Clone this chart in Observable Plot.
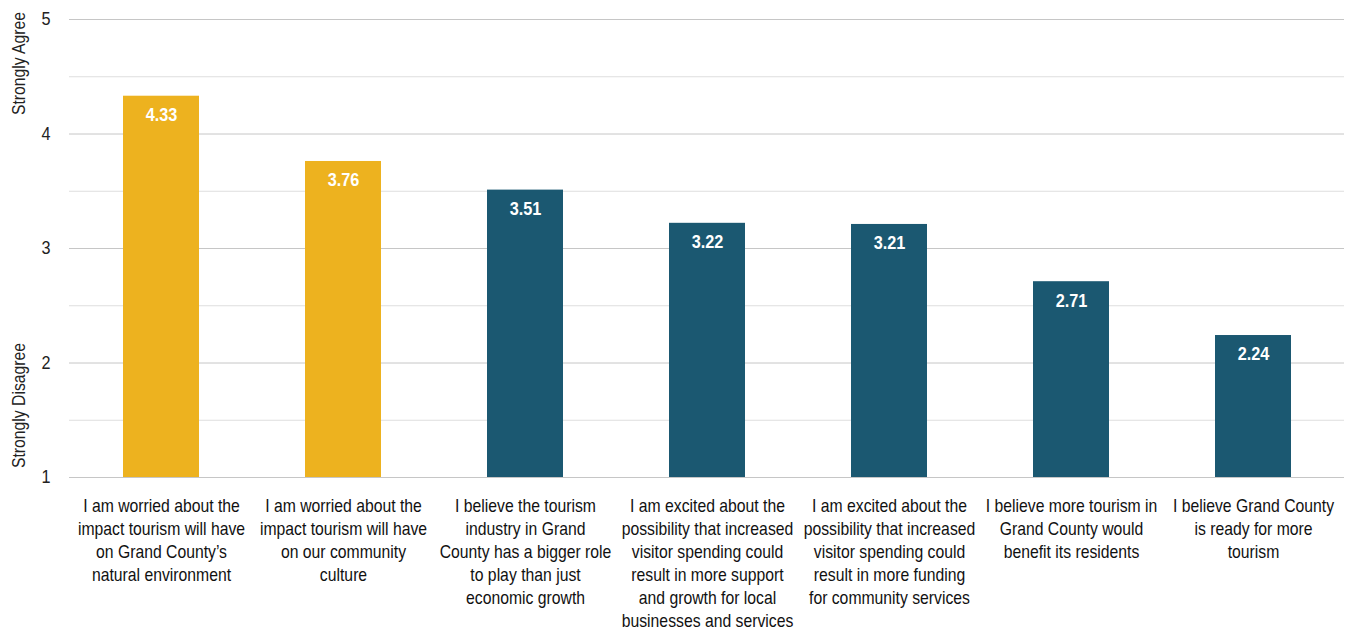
<!DOCTYPE html>
<html>
<head>
<meta charset="utf-8">
<script src="https://cdn.jsdelivr.net/npm/d3@7"></script>
<script src="https://cdn.jsdelivr.net/npm/@observablehq/plot@0.6"></script>
<style>
  html, body { margin: 0; padding: 0; background: #fff; }
  #chart svg { display: block; }
</style>
</head>
<body>
<div id="chart"></div>
<script>
const categories = [
  "I am worried about the\nimpact tourism will have\non Grand County’s\nnatural environment",
  "I am worried about the\nimpact tourism will have\non our community\nculture",
  "I believe the tourism\nindustry in Grand\nCounty has a bigger role\nto play than just\neconomic growth",
  "I am excited about the\npossibility that increased\nvisitor spending could\nresult in more support\nand growth for local\nbusinesses and services",
  "I am excited about the\npossibility that increased\nvisitor spending could\nresult in more funding\nfor community services",
  "I believe more tourism in\nGrand County would\nbenefit its residents",
  "I believe Grand County\nis ready for more\ntourism"
];
const values = [4.33, 3.76, 3.51, 3.22, 3.21, 2.71, 2.24];
const groups = ["concern", "concern", "support", "support", "support", "support", "support"];
const majorTicks = [1, 2, 3, 4, 5];
const minorTicks = [1.5, 2.5, 3.5, 4.5];
const axisLabels = ["Strongly Agree", "Strongly Disagree"];

const data = categories.map((c, i) => ({cat: c, value: values[i], group: groups[i]}));
const font = "'Liberation Sans', Arial, sans-serif";

const chart = Plot.plot({
  width: 1354,
  height: 631,
  marginLeft: 69,
  marginRight: 10,
  marginTop: 19,
  marginBottom: 154,
  style: {fontFamily: font, fontSize: "17px", background: "#fff"},
  x: {domain: categories, paddingInner: 0.585, paddingOuter: 0.2925, axis: null},
  y: {domain: [1, 5]},
  color: {domain: ["concern", "support"], range: ["#EDB21F", "#1B5871"]},
  marks: [
    Plot.ruleY(minorTicks, {stroke: "#dedede", strokeWidth: 1}),
    Plot.ruleY(majorTicks, {stroke: "#c6c6c6", strokeWidth: 1}),
    Plot.axisY({ticks: majorTicks, tickSize: 0, tickPadding: 19, fontSize: 18, fill: "#222", label: null, tickFormat: d => d}),
    Plot.barY(data, {x: "cat", y1: 1, y2: "value", fill: "group"}),
    Plot.text(data, {x: "cat", y: "value", text: d => d.value.toFixed(2), dy: 19, fill: "white", fontWeight: "bold", fontSize: 18.5}),
    Plot.text(data, {x: "cat", y: 1, text: "cat", dy: 18, lineAnchor: "top", lineHeight: 1.278, fontSize: 18, fill: "#111"}),
    Plot.text([axisLabels[0]], {frameAnchor: "top-left", text: d => d, rotate: -90, textAnchor: "middle", lineAnchor: "middle", dx: -50, dy: 44, fontSize: 17.5, fill: "#222"}),
    Plot.text([axisLabels[1]], {frameAnchor: "bottom-left", text: d => d, rotate: -90, textAnchor: "middle", lineAnchor: "middle", dx: -50, dy: -72, fontSize: 17.5, fill: "#222"})
  ]
});
document.getElementById("chart").appendChild(chart);

// Narrow the glyphs to mimic the condensed face of the original
function narrow(group, s) {
  if (!group) return;
  group.querySelectorAll("text").forEach(t => {
    const tr = t.getAttribute("transform");
    const x = +(t.getAttribute("x") || 0), y = +(t.getAttribute("y") || 0);
    if (tr) {
      t.setAttribute("transform", tr + ` scale(${s},1)`);
    } else {
      t.removeAttribute("x"); t.removeAttribute("y");
      t.setAttribute("transform", `translate(${x},${y}) scale(${s},1)`);
    }
  });
}
const textGroups = chart.querySelectorAll('g[aria-label="text"]');
narrow(textGroups[0], 0.88);
narrow(textGroups[1], 0.875);
narrow(textGroups[2], 0.9);
narrow(textGroups[3], 0.9);
narrow(chart.querySelector('g[aria-label="y-axis tick label"]'), 0.9);
</script>
</body>
</html>
